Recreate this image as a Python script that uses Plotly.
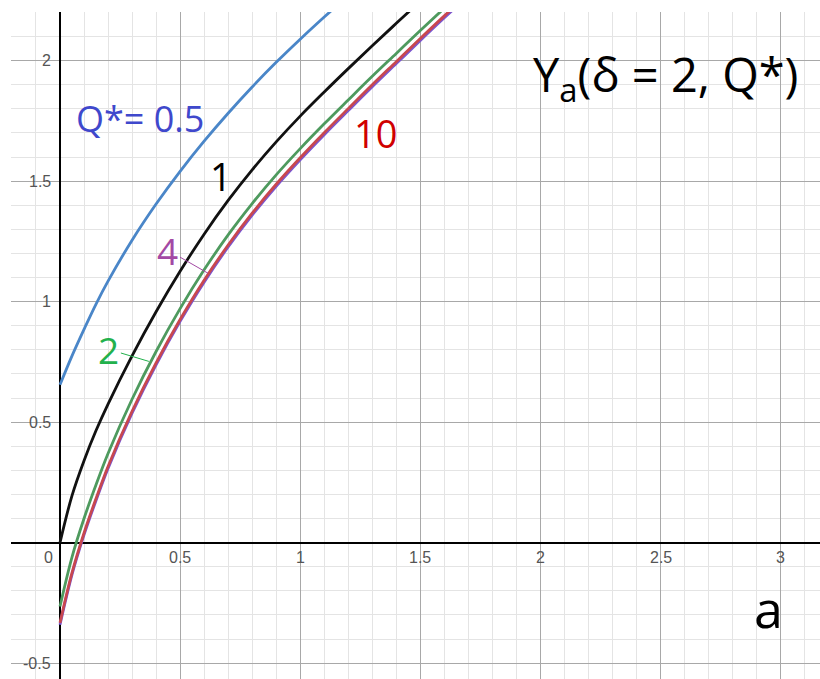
import plotly.graph_objects as go

# sample points along a
a_vals = [0, 0.05, 0.1, 0.15, 0.2, 0.3, 0.4, 0.5, 0.6, 0.7, 0.8, 0.9, 1.0,
          1.1, 1.2, 1.3, 1.4, 1.5, 1.6, 1.7]

# Y_a(delta = 2, Q*) for each Q*
y_q05 = [0.655, 0.775, 0.885, 0.99, 1.085, 1.255, 1.405, 1.541, 1.666, 1.782,
         1.891, 1.993, 2.089, 2.181, 2.27]
y_q1 = [0.0, 0.195, 0.34, 0.465, 0.575, 0.775, 0.958, 1.126, 1.28, 1.42,
        1.547, 1.663, 1.77, 1.87, 1.967, 2.062, 2.155, 2.247, 2.338]
y_q2 = [-0.265, -0.06, 0.10, 0.24, 0.37, 0.595, 0.793, 0.971, 1.132, 1.277,
        1.407, 1.526, 1.635, 1.738, 1.837, 1.935, 2.03, 2.125, 2.218, 2.31]
y_q4 = [-0.341, -0.133, 0.032, 0.175, 0.308, 0.537, 0.738, 0.918, 1.081, 1.227,
        1.359, 1.479, 1.589, 1.693, 1.793, 1.892, 1.988, 2.084, 2.178, 2.269]
y_q10 = [-0.333, -0.125, 0.04, 0.183, 0.316, 0.545, 0.746, 0.926, 1.089, 1.235,
         1.367, 1.487, 1.597, 1.701, 1.801, 1.90, 1.996, 2.092, 2.186, 2.277]

x_tick_vals = [0.5, 1, 1.5, 2, 2.5, 3]
x_tick_text = ["0.5", "1", "1.5", "2", "2.5", "3"]
y_tick_vals = [-0.5, 0.5, 1, 1.5, 2]
y_tick_text = ["-0.5", "0.5", "1", "1.5", "2"]

series = [
    (y_q05, "#4a86c8"),
    (y_q1, "#111111"),
    (y_q2, "#4e9a5e"),
    (y_q4, "#7a56d0"),
    (y_q10, "#c8474f"),
]

fig = go.Figure()
for ys, col in series:
    fig.add_trace(go.Scatter(
        x=a_vals[:len(ys)], y=ys, mode="lines",
        line=dict(color=col, width=2.8, shape="spline", smoothing=1.0),
        showlegend=False, hoverinfo="skip",
    ))

tick_font = dict(family="Liberation Sans, Arial, sans-serif", size=16, color="#555555")
annotations = []
for v, t in zip(x_tick_vals, x_tick_text):
    annotations.append(dict(x=v, y=0, xref="x", yref="y", text=t, showarrow=False,
                            xanchor="center", yanchor="middle", yshift=-15,
                            font=tick_font))
for v, t in zip(y_tick_vals, y_tick_text):
    annotations.append(dict(x=0, y=v, xref="x", yref="y", text=t, showarrow=False,
                            xanchor="right", yanchor="middle", xshift=-7,
                            font=tick_font))
annotations.append(dict(x=0, y=0, xref="x", yref="y", text="0", showarrow=False,
                        xanchor="center", yanchor="middle", xshift=-12, yshift=-15,
                        font=tick_font))

label_family = "Open Sans, sans-serif"
annotations += [
    dict(x=0.335, y=1.758, xref="x", yref="y", text="Q*= 0.5", showarrow=False,
         font=dict(family=label_family, size=36, color="#3F48CC")),
    dict(x=0.672, y=1.52, xref="x", yref="y", text="1", showarrow=False,
         font=dict(family=label_family, size=38, color="#000000")),
    dict(x=1.315, y=1.70, xref="x", yref="y", text="10", showarrow=False,
         font=dict(family=label_family, size=38, color="#D00000")),
    dict(x=0.616, y=1.118, xref="x", yref="y", text="4", showarrow=True,
         arrowhead=0, arrowwidth=1, arrowcolor="#A349A4", ax=-40, ay=-23,
         font=dict(family=label_family, size=37, color="#A349A4")),
    dict(x=0.37, y=0.752, xref="x", yref="y", text="2", showarrow=True,
         arrowhead=0, arrowwidth=1, arrowcolor="#22B14C", ax=-40, ay=-12,
         font=dict(family=label_family, size=37, color="#22B14C")),
    dict(x=1.962, y=1.934, xref="x", yref="y", text="Y<sub>a</sub>(δ = 2, Q*)",
         showarrow=False, xanchor="left", yanchor="middle",
         font=dict(family=label_family, size=47, color="#000000")),
    dict(x=2.95, y=-0.27, xref="x", yref="y", text="a", showarrow=False,
         font=dict(family=label_family, size=52, color="#000000")),
]

axis_common = dict(
    dtick=0.5, tick0=0, showgrid=True, gridcolor="#a8a8a8", gridwidth=1,
    minor=dict(dtick=0.1, tick0=0, showgrid=True, gridcolor="#e4e4e4", gridwidth=1),
    zeroline=True, zerolinecolor="#000000", zerolinewidth=2,
    showticklabels=False, ticks="", showline=False, fixedrange=True,
)

fig.update_layout(
    width=820, height=679,
    margin=dict(l=11, r=0, t=12, b=0),
    paper_bgcolor="white", plot_bgcolor="white",
    xaxis=dict(range=[-0.204, 3.164], **axis_common),
    yaxis=dict(range=[-0.566, 2.202], **axis_common),
    annotations=annotations,
)

fig.write_html("out.html")
